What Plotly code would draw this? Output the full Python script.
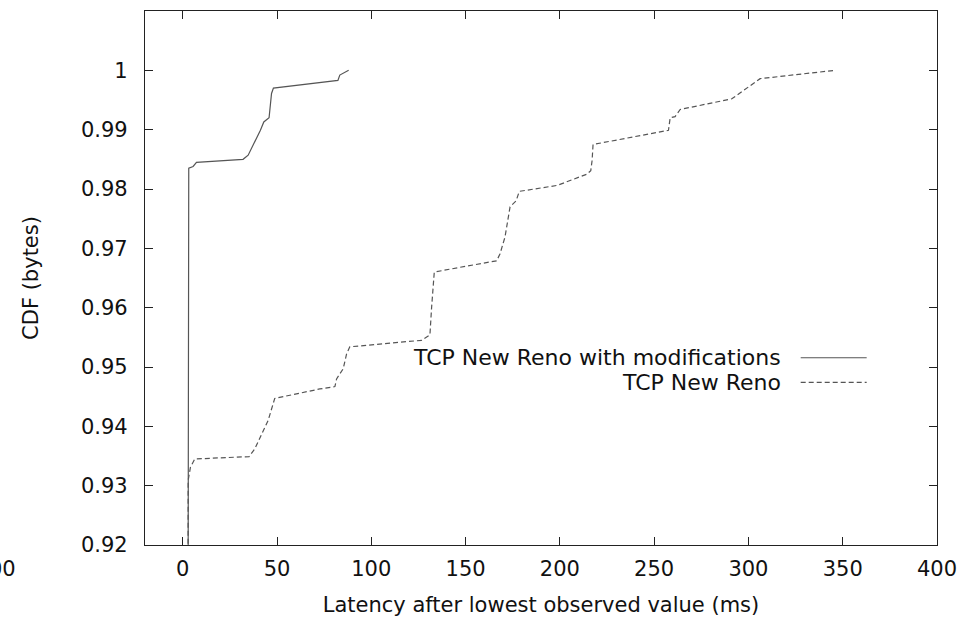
import plotly.graph_objects as go

# CDF of latency above the lowest observed value, weighted by bytes
mod_x = [2.8, 3.2, 5.5, 7.3, 32.0, 34.7, 41.2, 43.0, 45.8, 47.1, 48.1, 82.3, 83.3, 88.0]
mod_y = [0.900, 0.9835, 0.9838, 0.9845, 0.9850, 0.9857, 0.9899, 0.9913, 0.9920,
         0.9961, 0.9970, 0.9983, 0.9992, 1.000]

reno_x = [2.8, 2.9, 4.1, 6.4, 35.2, 38.2, 45.3, 48.8, 72.7, 80.7, 81.6, 85.1, 86.9,
          88.6, 126.7, 131.1, 132.0, 133.4, 147.0, 166.5, 168.3, 170.9, 173.6, 176.8,
          178.5, 198.4, 201.9, 214.3, 216.4, 217.1, 217.6, 232.0, 257.6, 258.5, 261.1,
          263.8, 291.2, 306.2, 346.0]
reno_y = [0.900, 0.9309, 0.9331, 0.9345, 0.9349, 0.9362, 0.9410, 0.9447, 0.9463,
          0.9467, 0.9480, 0.9497, 0.9522, 0.9534, 0.9545, 0.9554, 0.9601, 0.9660,
          0.9668, 0.9679, 0.9691, 0.9719, 0.9770, 0.9780, 0.9796, 0.9806, 0.9810,
          0.9825, 0.9831, 0.9848, 0.9875, 0.9884, 0.9899, 0.9920, 0.9922, 0.9934,
          0.9952, 0.9986, 1.000]

series_names = ["TCP New Reno with modifications", "TCP New Reno"]

x_ticks = [0, 50, 100, 150, 200, 250, 300, 350, 400]
x_tick_text = ["0", "50", "100", "150", "200", "250", "300", "350", "400"]
y_ticks = [0.92, 0.93, 0.94, 0.95, 0.96, 0.97, 0.98, 0.99, 1.00]
y_tick_text = ["0.92", "0.93", "0.94", "0.95", "0.96", "0.97", "0.98", "0.99", "1"]

FONT = "DejaVu Sans, Liberation Sans, Arial, sans-serif"
TEXT_COLOR = "#111111"
LINE_COLOR = "#555555"
DASH = "5px,3px"

fig = go.Figure()
fig.add_trace(go.Scatter(x=mod_x, y=mod_y, mode="lines", name=series_names[0],
                         line=dict(color=LINE_COLOR, width=1.2), showlegend=False))
fig.add_trace(go.Scatter(x=reno_x, y=reno_y, mode="lines", name=series_names[1],
                         line=dict(color=LINE_COLOR, width=1.2, dash=DASH), showlegend=False))

axis_common = dict(
    showgrid=False, zeroline=False, showline=True, linecolor="#222222", linewidth=1.3,
    mirror="ticks", ticks="inside", ticklen=8, tickwidth=1.2, tickcolor="#222222",
    tickfont=dict(family=FONT, size=21, color=TEXT_COLOR), automargin=False,
)

fig.update_xaxes(range=[-20, 400], tickvals=x_ticks, ticktext=x_tick_text,
                 ticklabelstandoff=5,
                 title=dict(text="Latency after lowest observed value (ms)",
                            font=dict(family=FONT, size=21, color=TEXT_COLOR), standoff=16),
                 **axis_common)
fig.update_yaxes(range=[0.92, 1.01], tickvals=y_ticks, ticktext=y_tick_text,
                 ticklabelstandoff=12,
                 title=dict(text="CDF (bytes)",
                            font=dict(family=FONT, size=21, color=TEXT_COLOR), standoff=36),
                 **axis_common)

# Key drawn gnuplot-style: right-aligned label followed by a line sample
key_rows = [(0.3507, None), (0.3047, DASH)]
for name, (ypos, dash) in zip(series_names, key_rows):
    fig.add_annotation(xref="paper", yref="paper", x=0.8055, y=ypos, text=name,
                       showarrow=False, xanchor="right", yanchor="middle",
                       font=dict(family=FONT, size=22, color=TEXT_COLOR))
    fig.add_shape(type="line", xref="paper", yref="paper",
                  x0=0.8279, x1=0.9112, y0=ypos, y1=ypos,
                  line=dict(color=LINE_COLOR, width=1.2, dash=dash or "solid"))

# Stray label partly outside the canvas on the left
fig.add_annotation(xref="paper", yref="paper", x=-0.160, y=-0.045, text="-100",
                   showarrow=False, xanchor="right", yanchor="middle",
                   font=dict(family=FONT, size=21, color=TEXT_COLOR))

fig.update_layout(
    width=978, height=619,
    margin=dict(l=145, r=41, t=11, b=74),
    paper_bgcolor="white", plot_bgcolor="white",
    showlegend=False,
)

fig.write_html("out.html")
